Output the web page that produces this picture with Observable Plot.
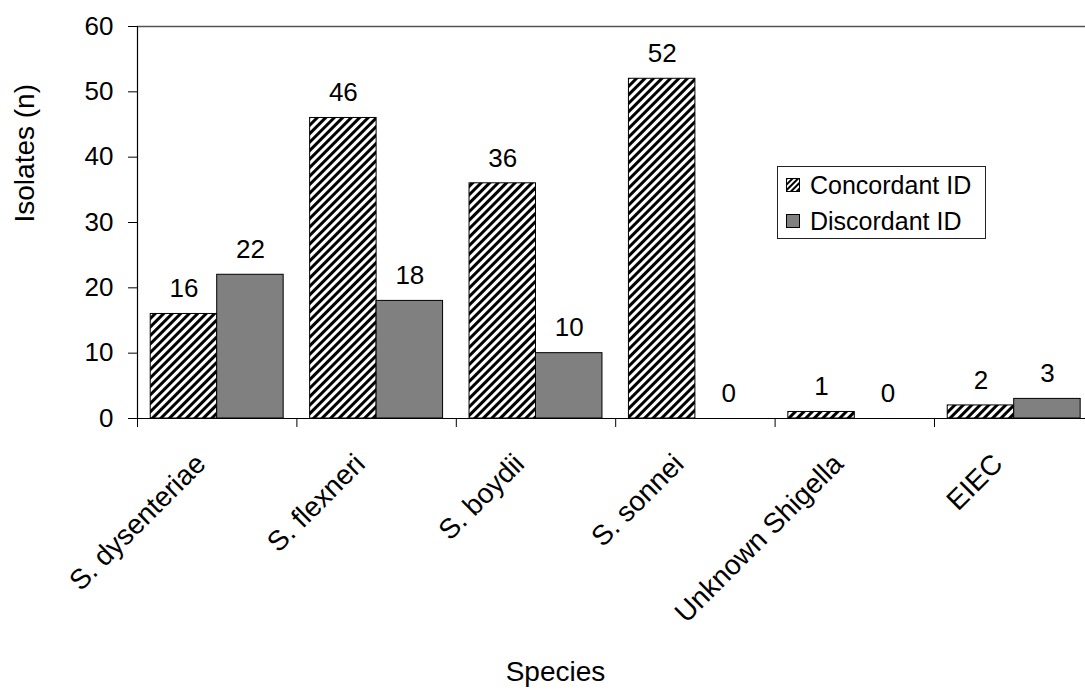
<!DOCTYPE html>
<html>
<head>
<meta charset="utf-8">
<script src="https://cdn.jsdelivr.net/npm/d3@7"></script>
<script src="https://cdn.jsdelivr.net/npm/@observablehq/plot@0.6"></script>
<style>
  html, body { margin: 0; padding: 0; background: #fff; overflow: hidden; }
  #wrap { position: relative; width: 1085px; height: 694px; }
  #legend {
    position: absolute; left: 777px; top: 166px; width: 207px; height: 71px;
    border: 1px solid #222; background: #fff; box-sizing: content-box;
    font-family: "Liberation Sans", Arial, sans-serif; font-size: 25px; color: #000;
  }
  #legend .row { position: absolute; left: 8px; display: flex; align-items: center; height: 30px; }
  #legend .row svg { margin-right: 10px; }
</style>
</head>
<body>
<div id="wrap"></div>
<script>
const species = ["S. dysenteriae", "S. flexneri", "S. boydii", "S. sonnei", "Unknown Shigella", "EIEC"];
const concordant = [16, 46, 36, 52, 1, 2];
const discordant = [22, 18, 10, 0, 0, 3];
const seriesNames = ["Concordant ID", "Discordant ID"];
const yTicks = [0, 10, 20, 30, 40, 50, 60];

const gap = 0.083; // group padding within each category band
const rowsC = species.map((s, i) => ({i, species: s, value: concordant[i]}));
const rowsD = species.map((s, i) => ({i, species: s, value: discordant[i]}));

const font = "'Liberation Sans', Arial, sans-serif";

const defs = () => {
  const d = d3.create("svg:defs");
  const p = d.append("pattern")
    .attr("id", "hatch")
    .attr("patternUnits", "userSpaceOnUse")
    .attr("width", 6).attr("height", 6)
    .attr("patternTransform", "rotate(45)");
  p.append("rect").attr("width", 6).attr("height", 6).attr("fill", "#fff");
  p.append("rect").attr("width", 3).attr("height", 6).attr("fill", "#000");
  return d.node();
};

const chart = Plot.plot({
  width: 1085,
  height: 694,
  marginLeft: 137,
  marginRight: 0,
  marginTop: 26,
  marginBottom: 276,
  style: {fontFamily: font, fontSize: "26px", background: "#fff", color: "#000", overflow: "hidden"},
  x: {domain: [0, species.length], range: [137, 137 + 159.4 * species.length], axis: null},
  y: {domain: [0, 60], axis: null},
  marks: [
    defs,
    Plot.ruleY([60], {stroke: "#555", strokeWidth: 1.5}),
    Plot.rectY(rowsC, {x1: d => d.i + gap, x2: d => d.i + 0.5, y1: 0, y2: "value", fill: "url(#hatch)", stroke: "#000", strokeWidth: 1}),
    Plot.rectY(rowsD, {x1: d => d.i + 0.5, x2: d => d.i + 1 - gap, y1: 0, y2: "value", fill: "#808080", stroke: "#000", strokeWidth: 1}),
    Plot.text(rowsC, {x: d => d.i + (gap + 0.5) / 2, y: "value", text: d => String(d.value), dy: -25, lineAnchor: "middle", fontSize: 26, fill: "#000"}),
    Plot.text(rowsD, {x: d => d.i + (1.5 - gap) / 2, y: "value", text: d => String(d.value), dy: -25, lineAnchor: "middle", fontSize: 26, fill: "#000"}),
    Plot.ruleX([0], {stroke: "#000", strokeWidth: 1.2}),
    Plot.ruleY([0], {stroke: "#000", strokeWidth: 1.2}),
    Plot.axisY({ticks: yTicks, tickSize: 9, tickPadding: 15, fontSize: 26, label: null, stroke: "#000"}),
    Plot.axisX({ticks: d3.range(0, species.length + 1), tickSize: 9, tickFormat: () => "", label: null, stroke: "#000"}),
    Plot.text(species, {x: (d, i) => i + 0.5, y: 0, text: d => d, rotate: -45, textAnchor: "end", lineAnchor: "bottom", dx: -10, dy: 47, fontSize: 28, fill: "#000"}),
    Plot.text(["Isolates (n)"], {frameAnchor: "left", dx: -112, rotate: -90, fontSize: 28, fill: "#000"}),
    Plot.text(["Species"], {frameAnchor: "bottom", dx: -56, dy: 262, fontSize: 28, fill: "#000"})
  ]
});

const wrap = document.getElementById("wrap");
wrap.appendChild(chart);

const legend = document.createElement("div");
legend.id = "legend";
const swatch = [
  `<svg width="14" height="14"><defs><pattern id="hatchL" patternUnits="userSpaceOnUse" width="4" height="4" patternTransform="rotate(45)"><rect width="4" height="4" fill="#fff"/><rect width="2" height="4" fill="#000"/></pattern></defs><rect x="0.5" y="0.5" width="13" height="13" fill="url(#hatchL)" stroke="#000"/></svg>`,
  `<svg width="14" height="14"><rect x="0.5" y="0.5" width="13" height="13" fill="#808080" stroke="#000"/></svg>`
];
seriesNames.forEach((name, k) => {
  const row = document.createElement("div");
  row.className = "row";
  row.style.top = (k === 0 ? 3 : 39) + "px";
  row.innerHTML = swatch[k] + `<span>${name}</span>`;
  legend.appendChild(row);
});
wrap.appendChild(legend);
</script>
</body>
</html>
